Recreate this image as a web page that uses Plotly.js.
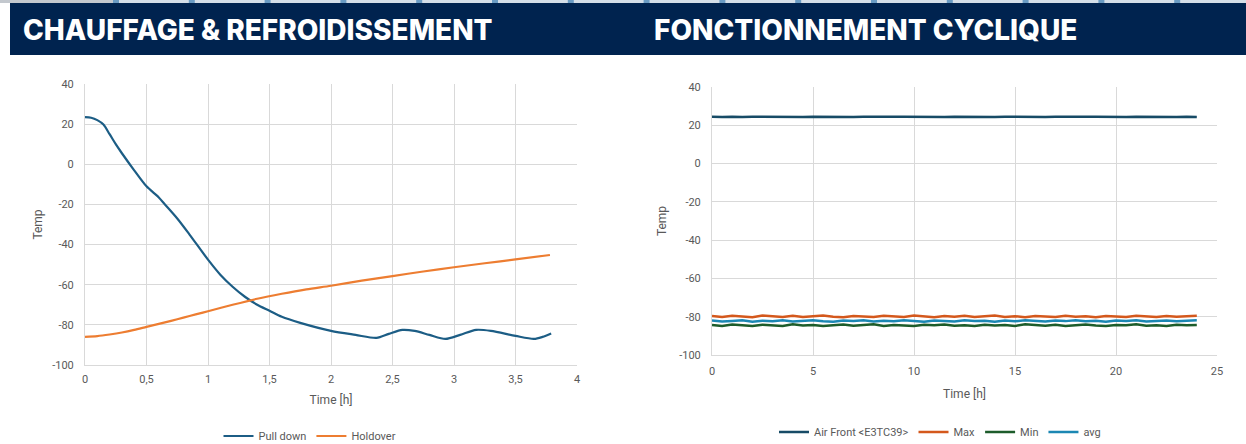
<!DOCTYPE html>
<html>
<head>
<meta charset="utf-8">
<script src="https://cdn.plot.ly/plotly-3.0.1.min.js"></script>
<style>
  html, body { margin: 0; padding: 0; background: #ffffff; }
  #chart { width: 1246px; height: 444px; }
</style>
</head>
<body>
<div id="chart"></div>
<script>
// ---------- Left chart: CHAUFFAGE & REFROIDISSEMENT ----------
const pullDownTime = [0, 0.05, 0.1, 0.15, 0.2, 0.25, 0.3, 0.4, 0.5, 0.6, 0.65, 0.75, 0.85, 1.0, 1.1, 1.2, 1.3, 1.4, 1.5, 1.6, 1.75, 2.0, 2.2, 2.37, 2.47, 2.58, 2.68, 2.8, 2.93, 3.05, 3.18, 3.3, 3.5, 3.65, 3.72, 3.79];
const pullDownTemp = [23.5, 23.2, 22.0, 19.8, 15.0, 10.0, 5.5, -3.0, -11.0, -16.5, -20.0, -27.0, -35.0, -47.5, -55.0, -61.0, -66.0, -70.0, -73.0, -76.0, -79.0, -83.0, -85.0, -86.5, -84.5, -82.5, -83.0, -85.0, -87.0, -85.0, -82.5, -83.0, -85.5, -87.0, -86.0, -84.3];
const holdoverTime = [0, 0.1, 0.2, 0.3, 0.4, 0.5, 0.6, 0.7, 0.8, 0.9, 1.0, 1.2, 1.4, 1.6, 1.8, 2.0, 2.25, 2.5, 2.75, 3.0, 3.25, 3.5, 3.78];
const holdoverTemp = [-86.0, -85.6, -84.8, -83.8, -82.5, -81.0, -79.5, -78.0, -76.4, -74.8, -73.2, -70.0, -67.0, -64.5, -62.3, -60.5, -58.0, -55.7, -53.4, -51.3, -49.3, -47.4, -45.2];
const leftXTicks = [0, 0.5, 1, 1.5, 2, 2.5, 3, 3.5, 4];
const leftXTickText = ['0', '0,5', '1', '1,5', '2', '2,5', '3', '3,5', '4'];

// ---------- Right chart: FONCTIONNEMENT CYCLIQUE ----------
const cycleTime = [0, 0.5, 1, 1.5, 2, 2.5, 3, 3.5, 4, 4.5, 5, 5.5, 6, 6.5, 7, 7.5, 8, 8.5, 9, 9.5, 10, 10.5, 11, 11.5, 12, 12.5, 13, 13.5, 14, 14.5, 15, 15.5, 16, 16.5, 17, 17.5, 18, 18.5, 19, 19.5, 20, 20.5, 21, 21.5, 22, 22.5, 23, 23.5, 24];
const airFront = [24.5, 24.3, 24.5, 24.3, 24.5, 24.4, 24.3, 24.5, 24.4, 24.3,
                  24.5, 24.4, 24.3, 24.5, 24.3, 24.4, 24.5, 24.3, 24.5, 24.4,
                  24.3, 24.5, 24.4, 24.3, 24.5, 24.4, 24.3, 24.5, 24.3, 24.5,
                  24.4, 24.3, 24.5, 24.3, 24.4, 24.5, 24.3, 24.5, 24.4, 24.3,
                  24.5, 24.3, 24.5, 24.4, 24.3, 24.5, 24.3, 24.4, 24.3];
const maxTemp = [-79.6, -80.2, -79.5, -79.9, -80.3, -79.4, -79.8, -80.1, -79.5, -80.2,
                 -79.7, -79.4, -80.0, -80.3, -79.6, -79.9, -80.2, -79.5, -79.8, -80.1,
                 -79.4, -79.9, -80.3, -79.6, -80.0, -79.5, -80.2, -79.8, -79.4, -80.1,
                 -79.7, -80.3, -79.6, -79.9, -80.2, -79.5, -80.0, -79.7, -80.3, -79.6,
                 -79.9, -80.2, -79.5, -79.8, -80.1, -79.6, -80.0, -79.7, -79.5];
const minTemp = [-84.3, -84.8, -84.1, -84.6, -84.9, -84.2, -84.5, -84.8, -84.0, -84.6,
                 -84.3, -84.9, -84.4, -84.1, -84.7, -84.5, -84.0, -84.8, -84.3, -84.6,
                 -84.9, -84.2, -84.5, -84.1, -84.7, -84.4, -84.9, -84.2, -84.6, -84.3,
                 -84.8, -84.0, -84.5, -84.7, -84.2, -84.9, -84.4, -84.1, -84.6, -84.8,
                 -84.3, -84.5, -84.0, -84.7, -84.4, -84.9, -84.2, -84.5, -84.3];
const avgTemp = [-82.0, -82.5, -82.2, -81.8, -82.6, -82.1, -82.4, -81.9, -82.5, -82.2,
                 -81.8, -82.4, -82.6, -82.0, -82.3, -81.9, -82.5, -82.1, -82.4, -81.8,
                 -82.3, -82.6, -82.0, -82.2, -82.5, -81.9, -82.3, -82.1, -82.6, -82.0,
                 -82.4, -81.9, -82.2, -82.5, -82.0, -82.3, -81.8, -82.4, -82.1, -82.6,
                 -82.0, -82.3, -81.9, -82.5, -82.2, -82.0, -82.4, -82.1, -81.9];
const rightXTicks = [0, 5, 10, 15, 20, 25];

// shared y ticks
const yTicks = [-100, -80, -60, -40, -20, 0, 20, 40];
const yTickText = ['-100', '-80', '-60', '-40', '-20', '0', '20', '40'];

const W = 1246, H = 444;
const px = v => v / W;
const py = v => 1 - v / H;

const tickFont = { family: 'Liberation Sans Narrow, Roboto, Arial, sans-serif', size: 11, color: '#595959' };
const titleFont = { family: 'Liberation Sans Narrow, Roboto, Arial, sans-serif', size: 12, color: '#595959' };

const traces = [
  { x: pullDownTime, y: pullDownTemp, name: 'Pull down', type: 'scatter', mode: 'lines',
    line: { color: '#1c5d85', width: 2.2, shape: 'spline', smoothing: 0.8 }, xaxis: 'x', yaxis: 'y', legend: 'legend' },
  { x: holdoverTime, y: holdoverTemp, name: 'Holdover', type: 'scatter', mode: 'lines',
    line: { color: '#ed7d31', width: 2.2, shape: 'spline', smoothing: 0.8 }, xaxis: 'x', yaxis: 'y', legend: 'legend' },
  { x: cycleTime, y: airFront, name: 'Air Front <E3TC39>', type: 'scatter', mode: 'lines',
    line: { color: '#174b66', width: 2.5 }, xaxis: 'x2', yaxis: 'y2', legend: 'legend2' },
  { x: cycleTime, y: maxTemp, name: 'Max', type: 'scatter', mode: 'lines',
    line: { color: '#d4581c', width: 2.5 }, xaxis: 'x2', yaxis: 'y2', legend: 'legend2' },
  { x: cycleTime, y: minTemp, name: 'Min', type: 'scatter', mode: 'lines',
    line: { color: '#1d5c2b', width: 2.5 }, xaxis: 'x2', yaxis: 'y2', legend: 'legend2' },
  { x: cycleTime, y: avgTemp, name: 'avg', type: 'scatter', mode: 'lines',
    line: { color: '#1b87b3', width: 2.5 }, xaxis: 'x2', yaxis: 'y2', legend: 'legend2' }
];

// decorative top strip and banner
const shapes = [
  { type: 'rect', xref: 'paper', yref: 'paper', x0: 0, x1: 1, y0: py(3), y1: 1, fillcolor: '#d4dee8', line: { width: 0 }, layer: 'below' },
  { type: 'rect', xref: 'paper', yref: 'paper', x0: 0, x1: px(113), y0: py(3), y1: 1, fillcolor: '#c3c8ce', line: { width: 0 }, layer: 'below' },
  { type: 'rect', xref: 'paper', yref: 'paper', x0: px(10), x1: 1, y0: py(55), y1: py(3), fillcolor: '#00234f', line: { width: 0 }, layer: 'below' }
];
for (let k = 0; k < 15; k++) {
  const x0 = 113 + 75.8 * k;
  shapes.push({ type: 'rect', xref: 'paper', yref: 'paper', x0: px(x0), x1: px(x0 + 6), y0: py(3), y1: 1,
    fillcolor: '#6a9bc3', line: { width: 0 }, layer: 'below' });
}

const bannerFont = { family: 'Inter, Open Sans, sans-serif', size: 28, color: '#ffffff', weight: 800 };

const layout = {
  width: W, height: H,
  margin: { l: 0, r: 0, t: 0, b: 0, autoexpand: false },
  paper_bgcolor: '#ffffff', plot_bgcolor: '#ffffff',
  separators: ', ',
  showlegend: true,
  shapes: shapes,
  annotations: [
    { text: 'CHAUFFAGE & REFROIDISSEMENT', xref: 'paper', yref: 'paper', x: px(21), y: py(30), xanchor: 'left', yanchor: 'middle', showarrow: false, font: bannerFont },
    { text: 'FONCTIONNEMENT CYCLIQUE', xref: 'paper', yref: 'paper', x: px(652), y: py(30), xanchor: 'left', yanchor: 'middle', showarrow: false, font: bannerFont }
  ],
  xaxis: {
    domain: [px(85), px(577)], range: [0, 4], anchor: 'y',
    tickvals: leftXTicks, ticktext: leftXTickText, tickfont: tickFont,
    showgrid: true, gridcolor: '#d9d9d9', gridwidth: 1,
    showline: true, linecolor: '#d9d9d9', linewidth: 1, zeroline: false,
    ticks: '', ticklabelstandoff: 4, automargin: false,
    title: { text: 'Time [h]', font: titleFont, standoff: 10 }
  },
  yaxis: {
    domain: [py(365), py(84)], range: [-100, 40], anchor: 'x',
    tickvals: yTicks, ticktext: yTickText, tickfont: tickFont,
    showgrid: true, gridcolor: '#d9d9d9', gridwidth: 1,
    showline: true, linecolor: '#d9d9d9', linewidth: 1, zeroline: false,
    ticks: '', ticklabelstandoff: 8, automargin: false,
    title: { text: 'Temp', font: titleFont, standoff: 7 }
  },
  xaxis2: {
    domain: [px(712), px(1217)], range: [0, 25], anchor: 'y2',
    tickvals: rightXTicks, tickfont: tickFont,
    showgrid: true, gridcolor: '#d9d9d9', gridwidth: 1,
    showline: true, linecolor: '#d9d9d9', linewidth: 1, zeroline: false,
    ticks: '', ticklabelstandoff: 6, automargin: false,
    title: { text: 'Time [h]', font: titleFont, standoff: 12 }
  },
  yaxis2: {
    domain: [py(355), py(87)], range: [-100, 40], anchor: 'x2',
    tickvals: yTicks, ticktext: yTickText, tickfont: tickFont,
    showgrid: true, gridcolor: '#d9d9d9', gridwidth: 1,
    showline: true, linecolor: '#d9d9d9', linewidth: 1, zeroline: false,
    ticks: '', ticklabelstandoff: 8, automargin: false,
    title: { text: 'Temp', font: titleFont, standoff: 10 }
  },
  legend: {
    orientation: 'h', x: px(310), y: py(436), xanchor: 'center', yanchor: 'middle',
    font: tickFont, bgcolor: 'rgba(0,0,0,0)', itemwidth: 30, tracegroupgap: 0
  },
  legend2: {
    orientation: 'h', x: px(940), y: py(432), xanchor: 'center', yanchor: 'middle',
    font: tickFont, bgcolor: 'rgba(0,0,0,0)', itemwidth: 30, tracegroupgap: 0
  }
};

Plotly.newPlot('chart', traces, layout, { displayModeBar: false, staticPlot: true });
</script>
</body>
</html>
